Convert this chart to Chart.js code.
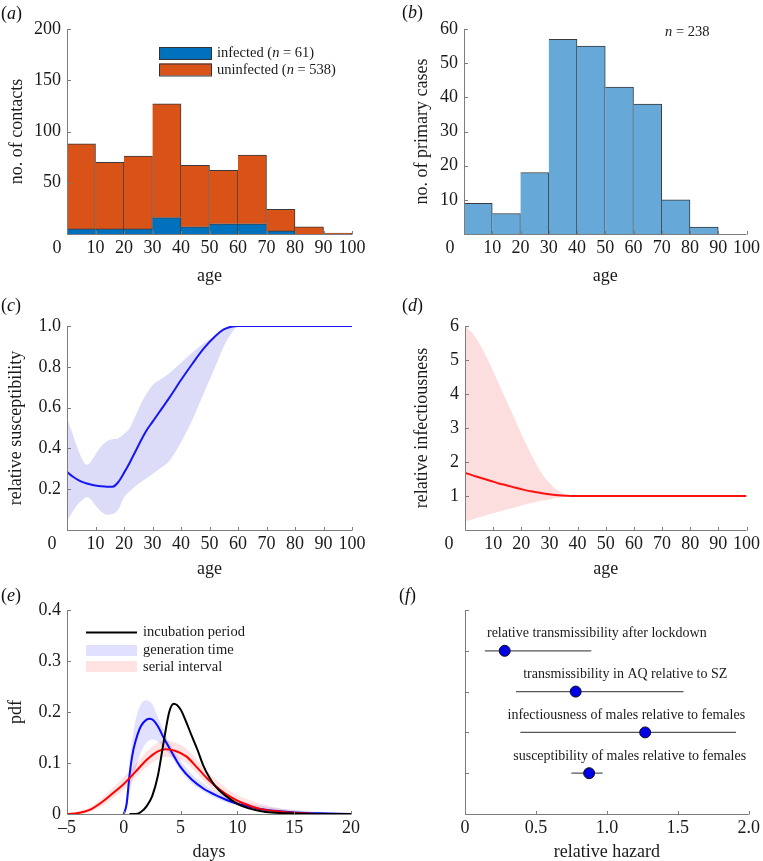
<!DOCTYPE html>
<html><head><meta charset="utf-8">
<script src="https://cdn.jsdelivr.net/npm/chart.js@4.4.1/dist/chart.umd.min.js"></script>
<style>
html,body{margin:0;padding:0;background:#fff;}
body{width:763px;height:861px;position:relative;overflow:hidden;font-family:'Liberation Serif','Times New Roman',serif;}
.p{position:absolute;}
.p canvas{display:block;}
.lab{position:absolute;font-size:18px;line-height:20px;color:#111;}
</style></head><body>
<div class="p" style="left:0;top:0"><canvas id="ca" width="380" height="290"></canvas></div>
<div class="p" style="left:380px;top:0"><canvas id="cb" width="383" height="290"></canvas></div>
<div class="p" style="left:0;top:290px"><canvas id="cc" width="380" height="290"></canvas></div>
<div class="p" style="left:380px;top:290px"><canvas id="cd" width="383" height="290"></canvas></div>
<div class="p" style="left:0;top:580px"><canvas id="ce" width="380" height="281"></canvas></div>
<div class="p" style="left:380px;top:580px"><canvas id="cf" width="383" height="281"></canvas></div>
<div class="lab" style="left:1px;top:3px">(<i>a</i>)</div>
<div class="lab" style="left:402px;top:2px">(<i>b</i>)</div>
<div class="lab" style="left:1px;top:295px">(<i>c</i>)</div>
<div class="lab" style="left:402px;top:295px">(<i>d</i>)</div>
<div class="lab" style="left:1px;top:585px">(<i>e</i>)</div>
<div class="lab" style="left:399px;top:585px">(<i>f</i>)</div>
<script>
// ---------------- DATA ----------------
const ageBinStart = [0,10,20,30,40,50,60,70,80,90];
const infectedContacts   = [5,5,5,16,7,10,10,3,0,0];
const uninfectedContacts = [83,65,71,111,60,52,67,21,7,1];
const primaryCases       = [9,6,18,57,55,43,38,10,2,0];

const suscAge   = [0,2,4,6,7,8,10,12,14,16,18,20,22,24,26,28,30,33,36,40,44,48,52,55,58,60,70,80,90,100];
const suscMean  = [0.285,0.262,0.245,0.232,0.228,0.224,0.218,0.214,0.212,0.212,0.235,0.28,0.33,0.385,0.44,0.49,0.53,0.59,0.65,0.735,0.815,0.89,0.95,0.983,0.998,1,1,1,1,1];
const suscUpper = [0.55,0.47,0.39,0.33,0.32,0.33,0.37,0.41,0.435,0.445,0.45,0.47,0.5,0.56,0.62,0.67,0.71,0.74,0.77,0.82,0.87,0.915,0.955,0.98,0.995,1,1,1,1,1];
const suscLower = [0.045,0.09,0.13,0.155,0.16,0.155,0.12,0.09,0.075,0.078,0.10,0.16,0.19,0.215,0.235,0.255,0.275,0.305,0.34,0.43,0.54,0.67,0.8,0.9,0.97,1,1,1,1,1];

const infAge   = [0,3,6,9,12,15,18,21,24,27,30,33,36,38,40,50,60,70,80,90,100];
const infMean  = [1.68,1.6,1.52,1.45,1.37,1.31,1.24,1.18,1.13,1.09,1.05,1.025,1.008,1.0,1,1,1,1,1,1,1];
const infUpper = [6.0,5.75,5.35,4.85,4.3,3.75,3.2,2.65,2.15,1.7,1.38,1.16,1.04,1.0,1,1,1,1,1,1,1];
const infLower = [0.25,0.32,0.4,0.47,0.54,0.61,0.67,0.74,0.8,0.86,0.9,0.95,0.98,1.0,1,1,1,1,1,1,1];

const incDays = [0.5,1,1.5,2,2.5,3,3.5,4,4.4,5,5.5,6,6.5,7,8,9,10,11,12,13,15,17,20];
const incPdf  = [0,0,0.004,0.015,0.035,0.075,0.14,0.2,0.216,0.205,0.18,0.152,0.125,0.095,0.056,0.035,0.02,0.011,0.006,0.003,0.001,0,0];

const genDays = [0,0.25,0.5,0.75,1,1.5,2,2.3,2.6,3,3.5,4,5,6,7,8,9,10,12,14,16,18,20];
const genPdf  = [0,0.02,0.075,0.115,0.14,0.172,0.185,0.187,0.184,0.172,0.15,0.13,0.092,0.067,0.05,0.038,0.028,0.02,0.01,0.005,0.002,0.001,0];
const genHi   = [0,0.04,0.1,0.145,0.18,0.215,0.223,0.22,0.212,0.19,0.165,0.14,0.105,0.078,0.06,0.045,0.035,0.027,0.016,0.01,0.006,0.003,0.001];
const genLo   = [0,0.01,0.04,0.065,0.085,0.12,0.14,0.145,0.146,0.142,0.13,0.118,0.085,0.06,0.044,0.032,0.023,0.016,0.008,0.004,0.002,0.001,0];

const serDays = [-5,-4,-3,-2,-1,0,1,2,3,3.7,4.5,5.5,6.5,7.5,8.5,9.5,10.5,12,14,16,18,20];
const serPdf  = [0,0.002,0.008,0.022,0.04,0.059,0.082,0.106,0.123,0.127,0.124,0.113,0.09,0.066,0.047,0.032,0.021,0.01,0.004,0.001,0,0];
const serHi   = [0.001,0.005,0.013,0.03,0.05,0.072,0.097,0.122,0.14,0.143,0.14,0.128,0.105,0.08,0.06,0.043,0.032,0.02,0.01,0.005,0.002,0.001];
const serLo   = [0,0,0.004,0.014,0.03,0.047,0.07,0.092,0.107,0.112,0.11,0.1,0.078,0.055,0.036,0.023,0.014,0.006,0.002,0,0,0];

const hazardLabels = ['relative transmissibility after lockdown','transmissibility in AQ relative to SZ','infectiousness of males relative to females','susceptibility of males relative to females'];
const hazardEst = [0.28,0.78,1.27,0.875];
const hazardLo  = [0.14,0.36,0.39,0.75];
const hazardHi  = [0.89,1.54,1.91,0.97];
const hazardLabelStart = [0.155,0.41,0.30,0.34];

// ---------------- SETUP ----------------
const SERIF = "'Liberation Serif','Times New Roman',serif";
Chart.defaults.font.family = SERIF;
Chart.defaults.font.size = 18;
Chart.defaults.color = '#1a1a1a';
Chart.defaults.animation = false;
Chart.defaults.responsive = false;
Chart.defaults.devicePixelRatio = 1;
Chart.defaults.plugins.legend.display = false;
Chart.defaults.plugins.tooltip.enabled = false;
Chart.defaults.elements.point.radius = 0;

const sum = a => a.reduce((s,v)=>s+v,0);
const fmt1 = v => v === 0 ? '0' : v.toFixed(1);
const dash = v => String(v).replace('-', '\u2013');

function xAxis(o){
  return {
    type:'linear', min:o.min, max:o.max, offset:false, stacked:!!o.stacked,
    grid:{display:false, drawTicks:false, tickLength:0}, border:{display:false},
    ticks:{stepSize:o.step, autoSkip:false, maxRotation:0, padding:3, font:{size:18}, callback:o.cb},
    title:{display:!!o.title, text:o.title, font:{size:18, lineHeight:1}, padding:{top:0,bottom:o.tpad}},
    afterFit(s){ s.height = o.h; }
  };
}
function yAxis(o){
  return {
    type:'linear', min:o.min, max:o.max, stacked:!!o.stacked,
    grid:{display:false, drawTicks:false, tickLength:0}, border:{display:false},
    ticks:{stepSize:o.step, autoSkip:false, padding:6, font:{size:18}, callback:o.cb, display: o.noLabels ? false : true},
    title:{display:!!o.title, text:o.title, font:{size:18, lineHeight:1}, padding:{top:o.tpad,bottom:0}},
    afterFit(s){ s.width = o.w; }
  };
}

// axis lines with inward ticks + shifted origin label
const framePlugin = {
  id:'frame',
  afterDatasetsDraw(chart, args, opts){
    const {ctx, chartArea:a, scales} = chart;
    ctx.save();
    ctx.strokeStyle = '#7d7d7d'; ctx.lineWidth = 1;
    ctx.beginPath();
    const L = Math.round(a.left)+0.5, B = Math.round(a.bottom)+0.5;
    ctx.moveTo(L, a.top); ctx.lineTo(L, B); ctx.lineTo(a.right, B);
    const tl = 3.5;
    scales.x.ticks.forEach(t => { const px = Math.round(scales.x.getPixelForValue(t.value))+0.5; ctx.moveTo(px,B); ctx.lineTo(px,B-tl); });
    scales.y.ticks.forEach(t => { const py = Math.round(scales.y.getPixelForValue(t.value))+0.5; ctx.moveTo(L,py); ctx.lineTo(L+tl,py); });
    ctx.stroke();
    if (opts && opts.zeroShift !== undefined){
      ctx.fillStyle = '#1a1a1a';
      ctx.font = '18px ' + SERIF;
      ctx.textAlign = 'center'; ctx.textBaseline = 'middle';
      ctx.fillText('0', scales.x.getPixelForValue(0) + opts.zeroShift, a.bottom + 3 + 10.8);
    }
    ctx.restore();
  }
};

function richText(ctx, parts, x, y, size){
  let cx = x;
  parts.forEach(([t,it]) => {
    ctx.font = (it ? 'italic ' : '') + size + 'px ' + SERIF;
    ctx.fillText(t, cx, y);
    cx += ctx.measureText(t).width;
  });
}

const hideZero = v => v === 0 ? '' : String(v);

// ---------------- (a) ----------------
const binCentre = ageBinStart.map(s => s + 5);
const legendA = {
  id:'legendA',
  afterDraw(chart){
    const ctx = chart.ctx;
    ctx.save();
    const rows = [[chart.data.datasets[0], 47],[chart.data.datasets[1], 63.5]];
    rows.forEach(([ds, y]) => {
      ctx.fillStyle = ds.backgroundColor; ctx.fillRect(159.5, y, 52, 12);
      ctx.strokeStyle = '#333'; ctx.lineWidth = 1; ctx.strokeRect(159.5, y+0.5, 52, 12);
      ctx.fillStyle = '#1a1a1a'; ctx.textBaseline = 'middle'; ctx.textAlign = 'left';
      richText(ctx, [[ds.label + ' (', false],['n', true],[' = ' + sum(ds.data.map(d=>d.y)) + ')', false]], 217, y+6.5, 14.5);
    });
    ctx.restore();
  }
};
new Chart(document.getElementById('ca'), {
  type:'bar',
  data:{datasets:[
    {label:'infected', data: binCentre.map((x,i)=>({x, y:infectedContacts[i]})), backgroundColor:'#0072BD',
     borderColor:'#3a3a3a', borderWidth:{top:1,right:1,left:0,bottom:0}, barPercentage:1, categoryPercentage:1},
    {label:'uninfected', data: binCentre.map((x,i)=>({x, y:uninfectedContacts[i]})), backgroundColor:'#D95319',
     borderColor:'#3a3a3a', borderWidth:{top:1,right:1,left:0,bottom:0}, barPercentage:1, categoryPercentage:1}
  ]},
  options:{
    layout:{padding:{top:29,right:28,bottom:0,left:0}},
    scales:{
      x: xAxis({min:0,max:100,step:10,h:56,title:'age',tpad:5,stacked:true,cb:hideZero}),
      y: yAxis({min:0,max:200,step:50,w:67,title:'no. of contacts',tpad:8,stacked:true,cb:hideZero})
    },
    plugins:{frame:{zeroShift:-10}}
  },
  plugins:[framePlugin, legendA]
});

// ---------------- (b) ----------------
const nLabelB = {
  id:'nLabelB',
  afterDraw(chart){
    const ctx = chart.ctx; ctx.save();
    ctx.fillStyle = '#1a1a1a'; ctx.textBaseline = 'middle'; ctx.textAlign = 'left';
    richText(ctx, [['n', true],[' = ' + sum(primaryCases), false]], 285, 32, 14.5);
    ctx.restore();
  }
};
new Chart(document.getElementById('cb'), {
  type:'bar',
  data:{datasets:[
    {label:'primary cases', data: binCentre.map((x,i)=>({x, y:primaryCases[i]})), backgroundColor:'#66A9D8',
     borderColor:'#3a3a3a', borderWidth:{top:1,right:1,left:0,bottom:0}, barPercentage:1, categoryPercentage:1}
  ]},
  options:{
    layout:{padding:{top:29,right:14,bottom:0,left:0}},
    scales:{
      x: xAxis({min:0,max:100,step:10,h:56,title:'age',tpad:5,cb:hideZero}),
      y: yAxis({min:0,max:60,step:10,w:84,title:'no. of primary cases',tpad:33,cb:hideZero})
    },
    plugins:{frame:{zeroShift:-14}}
  },
  plugins:[framePlugin, nLabelB]
});

// ---------------- (c) ----------------
const pts = (xs, ys) => xs.map((x,i)=>({x, y:ys[i]}));
new Chart(document.getElementById('cc'), {
  type:'line',
  data:{datasets:[
    {label:'susceptibility', data:pts(suscAge,suscMean), borderColor:'#1717f2', borderWidth:2, cubicInterpolationMode:'monotone', fill:false},
    {label:'upper', data:pts(suscAge,suscUpper), borderWidth:0, borderColor:'rgba(0,0,0,0)', backgroundColor:'#DCDCF9', cubicInterpolationMode:'monotone', fill:'+1'},
    {label:'lower', data:pts(suscAge,suscLower), borderWidth:0, borderColor:'rgba(0,0,0,0)', cubicInterpolationMode:'monotone', fill:false}
  ]},
  options:{
    layout:{padding:{top:36,right:28,bottom:0,left:0}},
    scales:{
      x: xAxis({min:0,max:100,step:10,h:50,title:'age',tpad:2,cb:hideZero}),
      y: yAxis({min:0,max:1,step:0.2,w:67,title:'relative susceptibility',tpad:7,cb:v=> v===0?'':v.toFixed(1)})
    },
    plugins:{frame:{zeroShift:-15}}
  },
  plugins:[framePlugin]
});

// ---------------- (d) ----------------
new Chart(document.getElementById('cd'), {
  type:'line',
  data:{datasets:[
    {label:'infectiousness', data:pts(infAge,infMean), borderColor:'#ff1010', borderWidth:2, cubicInterpolationMode:'monotone', fill:false},
    {label:'upper', data:pts(infAge,infUpper), borderWidth:0, borderColor:'rgba(0,0,0,0)', backgroundColor:'#FDDEDE', cubicInterpolationMode:'monotone', fill:'+1'},
    {label:'lower', data:pts(infAge,infLower), borderWidth:0, borderColor:'rgba(0,0,0,0)', cubicInterpolationMode:'monotone', fill:false}
  ]},
  options:{
    layout:{padding:{top:36,right:14,bottom:0,left:0}},
    scales:{
      x: xAxis({min:0,max:100,step:10,h:50,title:'age',tpad:2,cb:hideZero}),
      y: yAxis({min:0,max:6,step:1,w:85,title:'relative infectiousness',tpad:33,cb:hideZero})
    },
    plugins:{frame:{zeroShift:-16}}
  },
  plugins:[framePlugin]
});

// ---------------- (e) ----------------
const BLUE_BAND = 'rgba(40,40,255,0.14)';
const RED_BAND = 'rgba(255,40,40,0.13)';
const legendE = {
  id:'legendE',
  afterDraw(chart){
    const ctx = chart.ctx; ctx.save();
    ctx.strokeStyle = '#000'; ctx.lineWidth = 2;
    ctx.beginPath(); ctx.moveTo(86,52.5); ctx.lineTo(137,52.5); ctx.stroke();
    ctx.fillStyle = BLUE_BAND; ctx.fillRect(86,65,51,11);
    ctx.fillStyle = RED_BAND; ctx.fillRect(86,81,51,11);
    ctx.fillStyle = '#1a1a1a'; ctx.textBaseline = 'middle'; ctx.textAlign = 'left';
    ctx.font = '14.5px ' + SERIF;
    ctx.fillText('incubation period', 143, 52);
    ctx.fillText('generation time', 143, 70);
    ctx.fillText('serial interval', 143, 87);
    ctx.restore();
  }
};
const smooth = {cubicInterpolationMode:'monotone', fill:false};
new Chart(document.getElementById('ce'), {
  type:'line',
  data:{datasets:[
    {label:'incubation period', data:pts(incDays,incPdf), borderColor:'#000', borderWidth:2, ...smooth},
    {label:'serial interval', data:pts(serDays,serPdf), borderColor:'#ff0000', borderWidth:2, ...smooth},
    {label:'generation time', data:pts(genDays,genPdf), borderColor:'#0a0aff', borderWidth:2, ...smooth},
    {label:'si upper', data:pts(serDays,serHi), borderWidth:0, borderColor:'rgba(0,0,0,0)', backgroundColor:RED_BAND, cubicInterpolationMode:'monotone', fill:'+1'},
    {label:'si lower', data:pts(serDays,serLo), borderWidth:0, borderColor:'rgba(0,0,0,0)', ...smooth},
    {label:'gt upper', data:pts(genDays,genHi), borderWidth:0, borderColor:'rgba(0,0,0,0)', backgroundColor:BLUE_BAND, cubicInterpolationMode:'monotone', fill:'+1'},
    {label:'gt lower', data:pts(genDays,genLo), borderWidth:0, borderColor:'rgba(0,0,0,0)', ...smooth}
  ]},
  options:{
    layout:{padding:{top:30,right:29,bottom:0,left:0}},
    scales:{
      x: xAxis({min:-5,max:20,step:5,h:47,title:'days',tpad:0,cb:v=>dash(v)}),
      y: yAxis({min:0,max:0.4,step:0.1,w:67,title:'pdf',tpad:7,cb:fmt1})
    }
  },
  plugins:[framePlugin, legendE]
});

// ---------------- (f) ----------------
const rowPos = hazardLabels.map((_,i)=> hazardLabels.length - i);
const hazardText = {
  id:'hazardText',
  afterDraw(chart){
    const ctx = chart.ctx, xs = chart.scales.x, ys = chart.scales.y; ctx.save();
    ctx.fillStyle = '#1a1a1a'; ctx.textBaseline = 'middle'; ctx.textAlign = 'left';
    ctx.font = '14px ' + SERIF;
    hazardLabels.forEach((t,i)=>{
      ctx.fillText(t, xs.getPixelForValue(hazardLabelStart[i]), ys.getPixelForValue(rowPos[i]) - 17);
    });
    ctx.restore();
  }
};
const errDatasets = hazardLabels.map((t,i)=>({
  label:t+' CI', data:[{x:hazardLo[i], y:rowPos[i]},{x:hazardHi[i], y:rowPos[i]}],
  borderColor:'#555', borderWidth:1.3, pointRadius:0, showLine:true
}));
new Chart(document.getElementById('cf'), {
  type:'scatter',
  data:{datasets:[
    {label:'estimate', data: hazardEst.map((x,i)=>({x, y:rowPos[i]})), pointRadius:5.5, pointBackgroundColor:'#0000e6', pointBorderColor:'#111', pointBorderWidth:1, showLine:false},
    ...errDatasets
  ]},
  options:{
    layout:{padding:{top:30,right:14,bottom:0,left:0}},
    scales:{
      x: xAxis({min:0,max:2,step:0.5,h:47,title:'relative hazard',tpad:0,cb:fmt1}),
      y: yAxis({min:0,max:5,step:1,w:85,noLabels:true})
    }
  },
  plugins:[framePlugin, hazardText]
});
</script>
</body></html>
